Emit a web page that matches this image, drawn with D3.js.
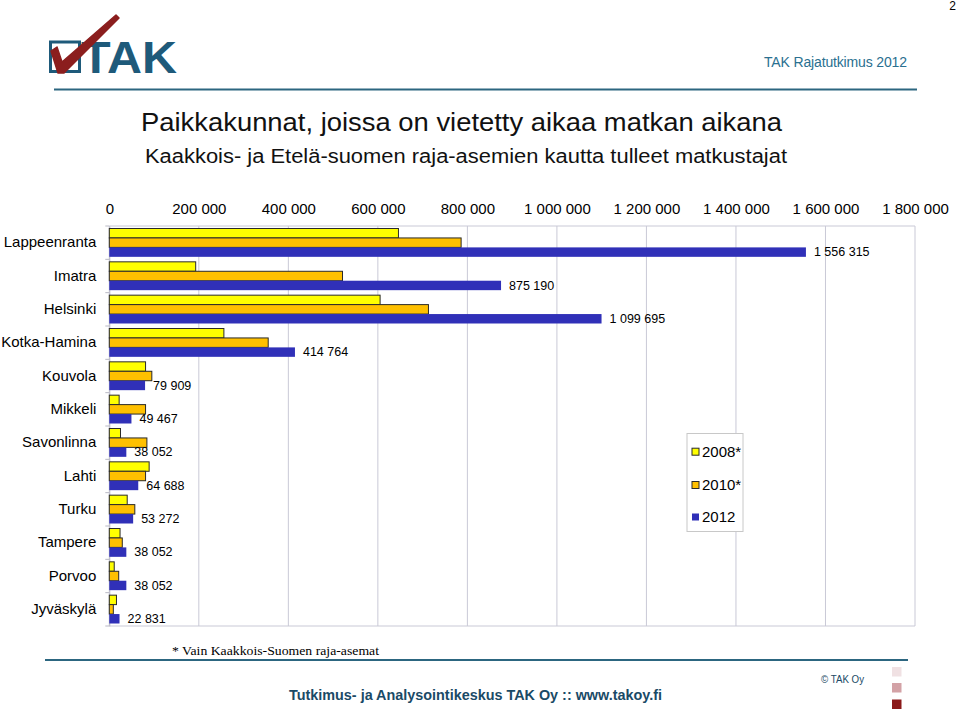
<!DOCTYPE html>
<html>
<head>
<meta charset="utf-8">
<script src="https://cdn.jsdelivr.net/npm/d3@7"></script>
<style>
html,body{margin:0;padding:0;background:#fff;}
svg{display:block;font-family:"Liberation Sans",Arial,sans-serif;}
</style>
</head>
<body>
<svg id="chart" width="960" height="710"></svg>
<script>
const categories = ["Lappeenranta","Imatra","Helsinki","Kotka-Hamina","Kouvola","Mikkeli","Savonlinna","Lahti","Turku","Tampere","Porvoo","Jyväskylä"];
const seriesNames = ["2008*","2010*","2012"];
const values2008 = [646000,193000,605000,256000,81000,22000,25000,89000,40000,24000,11000,16000];
const values2010 = [786000,521000,713000,355000,95000,81000,84000,81000,57000,29000,21000,9000];
const values2012 = [1556315,875190,1099695,414764,79909,49467,38052,64688,53272,38052,38052,22831];
const tickValues = [0,200000,400000,600000,800000,1000000,1200000,1400000,1600000,1800000];
const seriesColors = ["#ffff00","#ffc000","#3030b8"];
const seriesStroke = ["#2a2a2a","#2a2a2a","none"];

const svg = d3.select("#chart");
const fmt = v => d3.format(",")(v).replace(/,/g, " ");

// Header
svg.append("text").attr("x",956).attr("y",10).attr("text-anchor","end")
  .attr("font-size",12).attr("fill","#000").text("2");
svg.append("text").attr("x",907).attr("y",67).attr("text-anchor","end")
  .attr("font-size",14).attr("fill","#2a7090").attr("textLength",143).text("TAK Rajatutkimus 2012");
svg.append("line").attr("x1",54).attr("x2",917).attr("y1",89.5).attr("y2",89.5)
  .attr("stroke","#2c6680").attr("stroke-width",2);

// Logo
const logo = svg.append("g");
logo.append("rect").attr("x",50.5).attr("y",42).attr("width",29).attr("height",29.5)
  .attr("fill","none").attr("stroke","#1e5a7a").attr("stroke-width",3);
logo.append("text").attr("x",81).attr("y",73).attr("font-size",44).attr("font-weight","bold")
  .attr("fill","#1e5a7a").attr("textLength",96).attr("lengthAdjust","spacingAndGlyphs").text("TAK");
logo.append("path").attr("d","M51,51 L57,47 L62,62 L116,15 L119,18 L64,73 L58,73 Z")
  .attr("fill","#8b1e1e").attr("stroke","#8b1e1e").attr("stroke-width",1.5).attr("stroke-linejoin","round");

// Titles
svg.append("text").attr("x",141).attr("y",131).attr("font-size",25).attr("fill","#111")
  .attr("textLength",641).attr("lengthAdjust","spacingAndGlyphs")
  .text("Paikkakunnat, joissa on vietetty aikaa matkan aikana");
svg.append("text").attr("x",145).attr("y",163).attr("font-size",19.5).attr("fill","#111")
  .attr("textLength",642).attr("lengthAdjust","spacingAndGlyphs")
  .text("Kaakkois- ja Etelä-suomen raja-asemien kautta tulleet matkustajat");

// Scales
const x = d3.scaleLinear().domain([0,1800000]).range([109.3,915]);
const y = d3.scaleBand().domain(categories).range([226,626]).paddingInner(0.15).paddingOuter(0.075);
const yAll = d3.scaleBand().domain(categories).range([226,626]);
const ys = d3.scaleBand().domain(seriesNames).range([0,y.bandwidth()]);

// Grid
const g = svg.append("g");
g.selectAll("line.grid").data(tickValues).join("line")
  .attr("x1",d=>x(d)).attr("x2",d=>x(d)).attr("y1",226).attr("y2",626)
  .attr("stroke","#c9c9d6").attr("stroke-width",1);
g.append("line").attr("x1",x(0)).attr("x2",x(1800000)).attr("y1",226).attr("y2",226).attr("stroke","#c9c9d6");
g.append("line").attr("x1",x(0)).attr("x2",x(1800000)).attr("y1",626).attr("y2",626).attr("stroke","#c9c9d6");

// Top axis labels
const xAxis = d3.axisTop(x).tickValues(tickValues).tickFormat(fmt).tickSize(0).tickPadding(0);
const ax = svg.append("g").attr("transform","translate(0,214)").call(xAxis);
ax.select(".domain").remove();
ax.selectAll("text").attr("font-size",15).attr("fill","#000").attr("font-family","Liberation Sans, Arial, sans-serif");

// Left axis
const yAxis = d3.axisLeft(yAll).tickSize(0).tickPadding(13);
const ay = svg.append("g").attr("transform",`translate(${x(0)},0)`).call(yAxis);
ay.select(".domain").attr("stroke","#b8b8c4");
ay.selectAll("text").attr("font-size",15).attr("fill","#000").attr("font-family","Liberation Sans, Arial, sans-serif");
svg.append("g").selectAll("line").data(d3.range(categories.length+1)).join("line")
  .attr("x1",x(0)-4).attr("x2",x(0)).attr("y1",i=>226+i*yAll.step()).attr("y2",i=>226+i*yAll.step())
  .attr("stroke","#b8b8c4");

// Bars
const allSeries = [values2008, values2010, values2012];
const rows = categories.map((c,i)=>({cat:c, vals: seriesNames.map((s,j)=>({s, j, v: allSeries[j][i]}))}));
const groups = svg.append("g").selectAll("g").data(rows).join("g")
  .attr("transform",d=>`translate(0,${y(d.cat)})`);
groups.selectAll("rect").data(d=>d.vals).join("rect")
  .attr("x",x(0)).attr("y",d=>ys(d.s)).attr("width",d=>x(d.v)-x(0)).attr("height",ys.bandwidth())
  .attr("fill",d=>seriesColors[d.j]).attr("stroke",d=>seriesStroke[d.j]).attr("stroke-width",1);
groups.append("text")
  .attr("x",d=>x(d.vals[2].v)+8).attr("y",ys("2012")+ys.bandwidth()/2).attr("dy","0.35em")
  .attr("font-size",12.5).attr("fill","#000").text(d=>fmt(d.vals[2].v));

// Legend
const lg = svg.append("g");
lg.append("rect").attr("x",687).attr("y",433.5).attr("width",56).attr("height",98)
  .attr("fill","#fff").attr("stroke","#c8c8c8");
const ly = [451.7,485,517];
seriesNames.forEach((s,i)=>{
  lg.append("rect").attr("x",692).attr("y",ly[i]-3.5).attr("width",7).attr("height",7)
    .attr("fill",seriesColors[i]).attr("stroke",seriesStroke[i]==="none"?"none":"#2a2a2a");
  lg.append("text").attr("x",702).attr("y",ly[i]).attr("dy","0.35em").attr("font-size",15).attr("fill","#000").text(s);
});

// Footnote & footer
svg.append("text").attr("x",172).attr("y",654.5).attr("font-size",13.5)
  .attr("font-family","Liberation Serif, Times New Roman, serif").attr("fill","#000")
  .attr("textLength",207).attr("lengthAdjust","spacingAndGlyphs").text("* Vain Kaakkois-Suomen raja-asemat");
svg.append("line").attr("x1",45).attr("x2",908).attr("y1",660).attr("y2",660)
  .attr("stroke","#2c6680").attr("stroke-width",2);
svg.append("text").attr("x",289).attr("y",699.5).attr("font-size",15).attr("font-weight","bold")
  .attr("fill","#1a4a66").attr("textLength",373).attr("lengthAdjust","spacingAndGlyphs")
  .attr("font-family","Liberation Sans Narrow, Arial Narrow, Liberation Sans, sans-serif")
  .text("Tutkimus- ja Analysointikeskus TAK Oy  ::  www.takoy.fi");
svg.append("text").attr("x",821).attr("y",683).attr("font-size",10.5).attr("fill","#1a4a66")
  .attr("textLength",43).attr("lengthAdjust","spacingAndGlyphs").text("© TAK Oy");
const sq = ["#f0e1e3","#d3a2a6","#8b1a1a"];
const sqY = [667,683,699.5];
svg.append("g").selectAll("rect").data(sq).join("rect")
  .attr("x",892).attr("y",(d,i)=>sqY[i]).attr("width",9.5).attr("height",9.5).attr("fill",d=>d);
</script>
</body>
</html>
